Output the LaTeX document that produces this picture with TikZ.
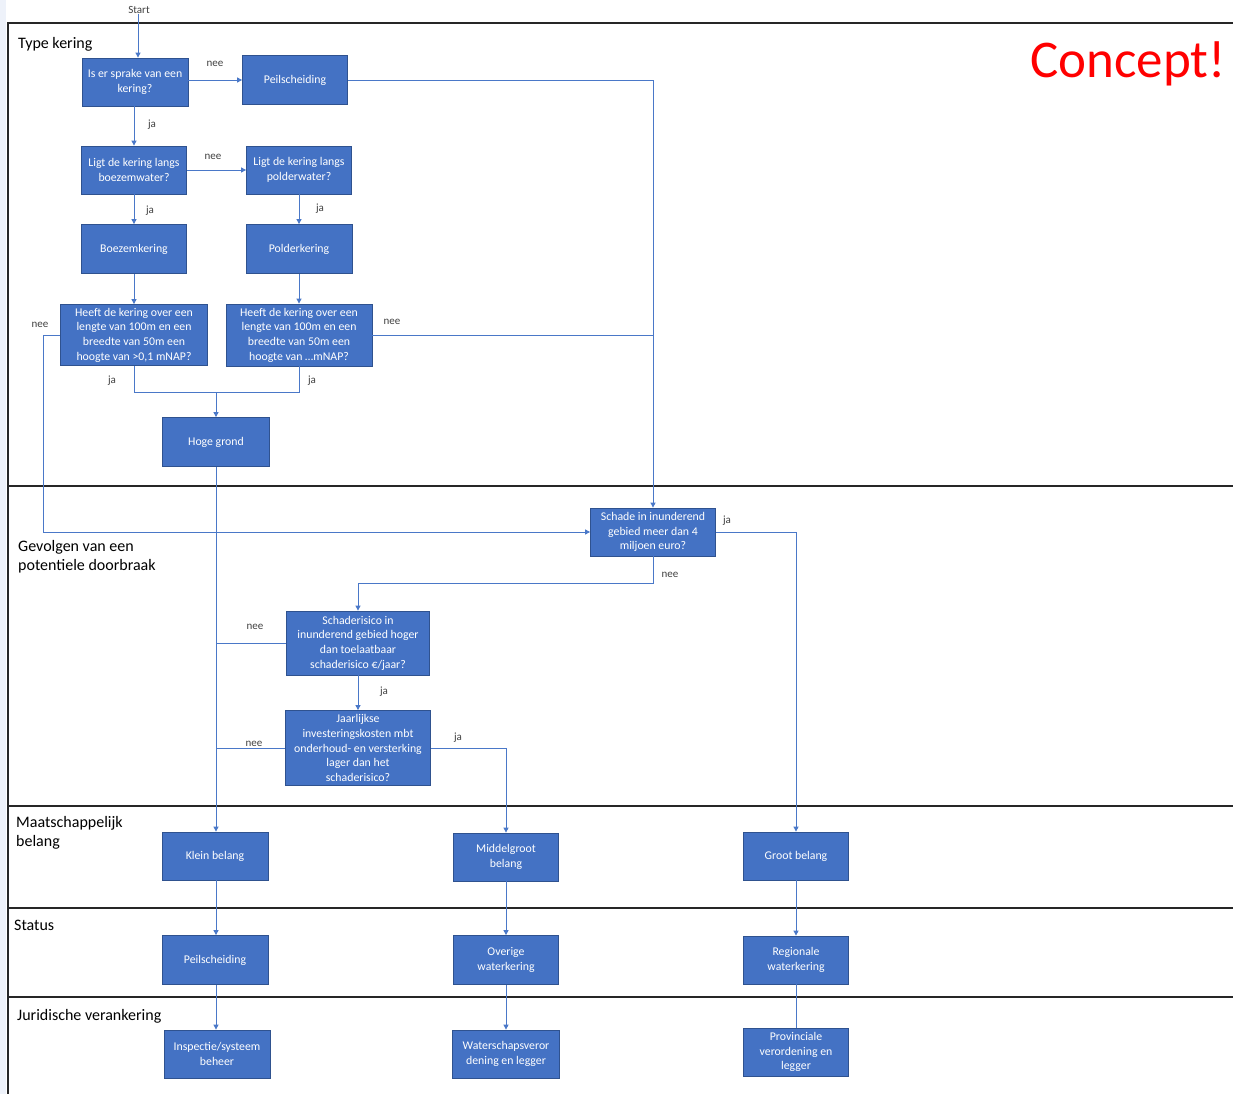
\documentclass[tikz,border=0pt]{standalone}
\usepackage{fontspec}
\setmainfont{Carlito}
\usetikzlibrary{arrows.meta}
\definecolor{boxfill}{HTML}{4472C4}
\definecolor{boxline}{HTML}{2F528F}
\definecolor{flowblue}{HTML}{4A78C8}
\definecolor{stripblue}{HTML}{EEF2FA}
\begin{document}
\begin{tikzpicture}[x=1pt,y=-1pt,
  stepbox/.style={draw=boxline, line width=0.8pt, fill=boxfill, text=white,
    align=center, font=\fontsize{11.8}{14.7}\selectfont, inner sep=1pt},
  sz/.style 2 args={minimum width=#1pt, minimum height=#2pt},
  lbl/.style={font=\fontsize{11}{13}\selectfont, text=black!75, inner sep=0pt},
  lane/.style={font=\fontsize{16}{19}\selectfont, inner sep=0pt, align=left, anchor=north west},
  flow/.style={draw=flowblue, line width=0.9pt},
  arr/.style={flow, -{Triangle[length=5pt,width=5pt]}},
  sep/.style={draw=black!85, line width=1.5pt}]

\useasboundingbox (0,0) rectangle (1233,1094);
\fill[stripblue] (0,0) rectangle (6,1094);

% swimlane frame
\draw[sep] (1233,23) -- (8,23) -- (8,1094);
\draw[sep] (8,486) -- (1233,486);
\draw[sep] (8,806) -- (1233,806);
\draw[sep] (8,908) -- (1233,908);
\draw[sep] (8,997) -- (1233,997);

% lane titles
\node[lane] (l1) at (18,37) {Type kering};
\node[lane] (l2) at (18,540) {Gevolgen van een\\potentiele doorbraak};
\node[lane] (l3) at (16,816) {Maatschappelijk\\belang};
\node[lane] (l4) at (14,920) {Status};
\node[lane] (l5) at (17,1009) {Juridische verankering};

\node[anchor=base west, inner sep=0pt, text=red, font=\fontsize{53}{60}\selectfont] (concept) at (1030,78) {Concept!};

% process steps
\node[lbl] (start) at (139,10) {Start};
\node[stepbox, sz={106}{48}] (a) at (135,82) {Is er sprake van een\\kering?};
\node[stepbox, sz={105}{49}] (b) at (295,80) {Peilscheiding};
\node[stepbox, sz={105}{48}] (c) at (134,170) {Ligt de kering langs\\boezemwater?};
\node[stepbox, sz={105}{48}] (d) at (299,170) {Ligt de kering langs\\polderwater?};
\node[stepbox, sz={105}{49}] (e) at (134,249) {Boezemkering};
\node[stepbox, sz={106}{49}] (f) at (299,249) {Polderkering};
\node[stepbox, sz={147}{61}] (g) at (134,335) {Heeft de kering over een\\lengte van 100m en een\\breedte van 50m een\\hoogte van >0,1 mNAP?};
\node[stepbox, sz={146}{62}] (h) at (299,335) {Heeft de kering over een\\lengte van 100m en een\\breedte van 50m een\\hoogte van …mNAP?};
\node[stepbox, sz={107}{49}] (i) at (216,442) {Hoge grond};
\node[stepbox, sz={125}{48}] (j) at (653,532) {Schade in inunderend\\gebied meer dan 4\\miljoen euro?};
\node[stepbox, sz={143}{64}] (k) at (358,643) {Schaderisico in\\inunderend gebied hoger\\dan toelaatbaar\\schaderisico €/jaar?};
\node[stepbox, sz={145}{75}] (l) at (358,748) {Jaarlijkse\\investeringskosten mbt\\onderhoud- en versterking\\lager dan het\\schaderisico?};
\node[stepbox, sz={106}{48}] (klein) at (215,856) {Klein belang};
\node[stepbox, sz={105}{48}] (mid) at (506,857) {Middelgroot\\belang};
\node[stepbox, sz={105}{48}] (groot) at (796,856) {Groot belang};
\node[stepbox, sz={106}{49}] (peil) at (215,960) {Peilscheiding};
\node[stepbox, sz={105}{49}] (overig) at (506,960) {Overige\\waterkering};
\node[stepbox, sz={105}{48}] (regio) at (796,960) {Regionale\\waterkering};
\node[stepbox, sz={106}{48}] (insp) at (217,1054) {Inspectie/systeem\\beheer};
\node[stepbox, sz={107}{48}] (ws) at (506,1054) {Waterschapsveror\\dening en legger};
\node[stepbox, sz={105}{48}] (prov) at (796,1052) {Provinciale\\verordening en\\legger};

% connectors
\draw[arr] (start.south -| 138,0) -- (138,0 |- a.north);
\draw[arr] (a.east |- b.west) -- (b.west);
\draw[arr] (a.south -| c.north) -- (c.north);
\draw[arr] (b.east) -| (j.north);
\draw[arr] (c.east) -- (d.west);
\draw[arr] (c.south) -- (e.north);
\draw[arr] (d.south) -- (f.north);
\draw[arr] (e.south) -- (g.north);
\draw[arr] (f.south) -- (h.north);
\draw[arr] (g.west) -- ++(-17,0) |- (j.west);
\draw[flow] (h.east) -- (h.east -| j.north);
\coordinate (merge) at (216,392);
\draw[flow] (g.south) |- (merge);
\draw[flow] (h.south) |- (merge);
\draw[arr] (merge) -- (i.north);
\draw[arr] (i.south) -- (i.south |- klein.north);
\draw[arr] (j.east) -| (groot.north);
\draw[arr] (j.south) -- ++(0,27) -| (k.north);
\draw[flow] (k.west) -- (k.west -| i.south);
\draw[arr] (k.south) -- (l.north);
\draw[flow] (l.west) -- (l.west -| i.south);
\draw[arr] (l.east) -| (mid.north);
\draw[arr] (klein.south -| i.south) -- (i.south |- peil.north);
\draw[arr] (mid.south) -- (overig.north);
\draw[arr] (groot.south) -- (regio.north);
\draw[arr] (peil.south -| i.south) -- (i.south |- insp.north);
\draw[arr] (overig.south) -- (ws.north);
\draw[flow] (regio.south) -- (prov.north);

% branch labels
\node[lbl] (t1) at (215,64) {nee};
\node[lbl] (t2) at (152,125) {ja};
\node[lbl] (t3) at (213,157) {nee};
\node[lbl] (t4) at (150,211) {ja};
\node[lbl] (t5) at (320,209) {ja};
\node[lbl] (t6) at (40,325) {nee};
\node[lbl] (t7) at (392,322) {nee};
\node[lbl] (t8) at (112,381) {ja};
\node[lbl] (t9) at (312,381) {ja};
\node[lbl] (t10) at (727,521) {ja};
\node[lbl] (t11) at (670,575) {nee};
\node[lbl] (t12) at (255,627) {nee};
\node[lbl] (t13) at (384,692) {ja};
\node[lbl] (t14) at (254,744) {nee};
\node[lbl] (t15) at (458,738) {ja};
\end{tikzpicture}
\end{document}
